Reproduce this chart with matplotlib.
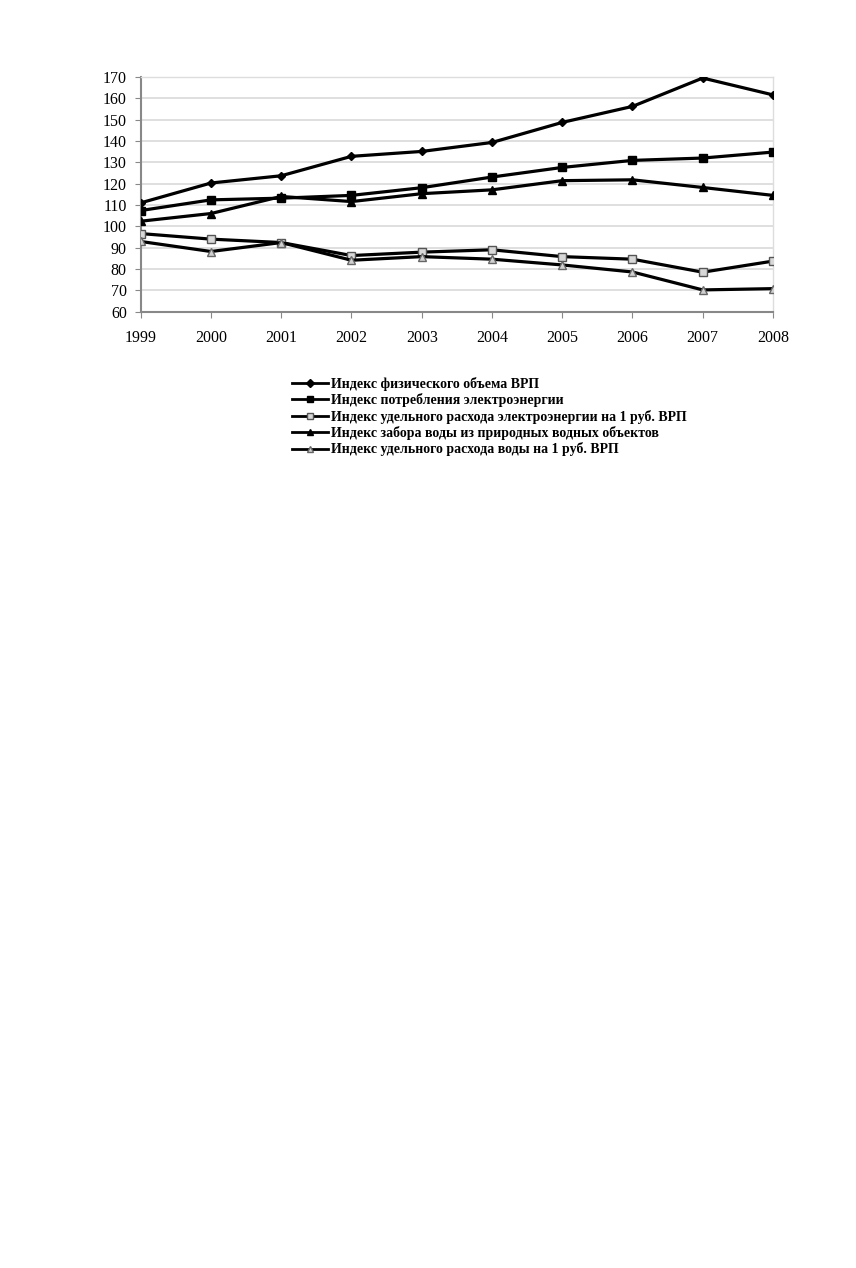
import matplotlib
matplotlib.use("Agg")
import matplotlib.pyplot as plt

years = [1999, 2000, 2001, 2002, 2003, 2004, 2005, 2006, 2007, 2008]
gdp_volume = [111.0, 120.3, 123.7, 132.8, 135.1, 139.3, 148.7, 156.2, 169.5, 161.6]
elec_consumption = [107.4, 112.4, 113.2, 114.5, 118.1, 123.1, 127.6, 130.9, 132.0, 134.8]
elec_specific = [96.6, 94.0, 92.4, 86.3, 87.9, 89.0, 85.8, 84.6, 78.5, 83.7]
water_intake = [102.4, 106.0, 114.0, 111.6, 115.3, 117.1, 121.4, 121.8, 118.2, 114.5]
water_specific = [92.9, 88.2, 92.4, 84.1, 85.8, 84.6, 81.9, 78.6, 70.2, 70.8]

labels = [
    "Индекс физического объема ВРП",
    "Индекс потребления электроэнергии",
    "Индекс удельного расхода электроэнергии на 1 руб. ВРП",
    "Индекс забора воды из природных водных объектов",
    "Индекс удельного расхода воды на 1 руб. ВРП",
]
yticks = [60, 70, 80, 90, 100, 110, 120, 130, 140, 150, 160, 170]

plt.rcParams['font.family'] = ['Liberation Serif', 'DejaVu Serif']

fig = plt.figure(figsize=(8.56, 12.68), dpi=100)
ax = fig.add_axes([0.1644, 0.7542, 0.903 - 0.1644, 0.9393 - 0.7542])

lw = 2.3
ax.plot(years, gdp_volume, color='black', lw=lw, marker='D', ms=4.5,
        mfc='black', mec='black', label=labels[0], zorder=5)
ax.plot(years, elec_consumption, color='black', lw=lw, marker='s', ms=6,
        mfc='black', mec='black', label=labels[1], zorder=5)
ax.plot(years, elec_specific, color='black', lw=lw, marker='s', ms=6,
        mfc='#d8d8d8', mec='#555555', mew=1.0, label=labels[2], zorder=5)
ax.plot(years, water_intake, color='black', lw=lw, marker='^', ms=6,
        mfc='black', mec='black', label=labels[3], zorder=5)
ax.plot(years, water_specific, color='black', lw=lw, marker='^', ms=6,
        mfc='#d0d0d0', mec='#666666', mew=1.0, label=labels[4], zorder=5)

ax.set_xlim(1999, 2008)
ax.set_ylim(60, 170)
ax.set_yticks(yticks)
ax.set_xticks(years)
ax.set_xticklabels([str(y) for y in years])
ax.grid(axis='y', color='#d9d9d9', lw=1.2)
ax.set_axisbelow(True)

for side in ['top', 'right']:
    ax.spines[side].set_color('#dddddd')
    ax.spines[side].set_linewidth(1.0)
for side in ['left', 'bottom']:
    ax.spines[side].set_color('#888888')
    ax.spines[side].set_linewidth(1.5)

ax.tick_params(axis='y', direction='out', length=4, color='#888888',
               labelsize=11.5, pad=6)
ax.tick_params(axis='x', direction='out', length=4, color='#888888',
               labelsize=11.5, pad=9)

leg = fig.legend(loc='upper left', bbox_to_anchor=(292 / 856, 1 - 377 / 1268),
                 frameon=False, handlelength=2.6,
                 handletextpad=0.2, labelspacing=0.17, borderaxespad=0,
                 borderpad=0, prop={'weight': 'bold', 'size': 10})
for h in leg.legend_handles:
    h.set_markersize(4)
    h.set_linewidth(2)

fig.savefig("out.png", dpi=100, facecolor='white')
